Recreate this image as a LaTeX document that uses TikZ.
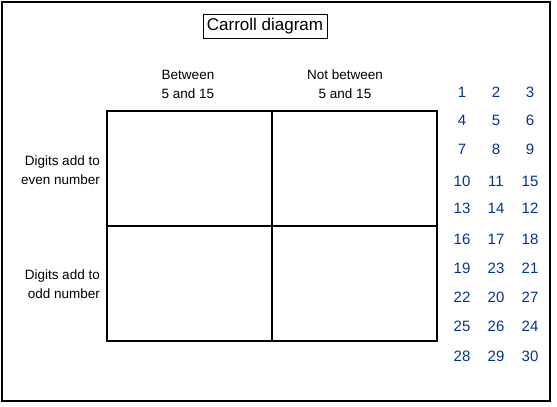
\documentclass[tikz,border=0pt]{standalone}
\usepackage{fontspec}
\setmainfont{Liberation Sans}
\usepackage{tikz}
\usetikzlibrary{positioning}

\definecolor{numblue}{RGB}{0,51,153}

\begin{document}
\begin{tikzpicture}[x=1pt, y=-1pt, font=\fontsize{13.5}{19}\selectfont,
    cell/.style={draw, line width=1.6pt, minimum width=165pt, minimum height=115pt, inner sep=0pt, outer sep=0pt},
    lbl/.style={align=center, inner sep=0pt},
    num/.style={text=numblue, font=\fontsize{15}{17}\selectfont, inner sep=0pt}]

    \useasboundingbox (0,0) rectangle (557,407);
    \draw[line width=1.3pt] (2,2) rectangle (550,401);

    \node[draw, line width=0.8pt, inner sep=4pt, font=\fontsize{17}{19}\selectfont] at (265,26) (title) {Carroll diagram};

    % grid
    \node[cell, anchor=north west] at (107,111) (c11) {};
    \node[cell, right=0pt of c11] (c12) {};
    \node[cell, below=0pt of c11] (c21) {};
    \node[cell, right=0pt of c21] (c22) {};

    \node[lbl] at (188,84) (colA) {Between\\5 and 15};
    \node[lbl] at (345,84) (colB) {Not between\\5 and 15};
    \node[lbl, align=right, anchor=east] at (100,170) (rowA) {Digits add to\\even number};
    \node[lbl, align=right, anchor=east] at (100,284) (rowB) {Digits add to\\odd number};

    % numbers to sort
    \foreach \a/\b/\c/\y in {1/2/3/92, 4/5/6/120, 7/8/9/149, 10/11/15/181, 13/14/12/208,
        16/17/18/239, 19/23/21/268, 22/20/27/297, 25/26/24/326, 28/29/30/356} {
        \node[num] at (462,\y) (n\a) {\a};
        \node[num] at (496,\y) (n\b) {\b};
        \node[num] at (530,\y) (n\c) {\c};
    };
\end{tikzpicture}
\end{document}
